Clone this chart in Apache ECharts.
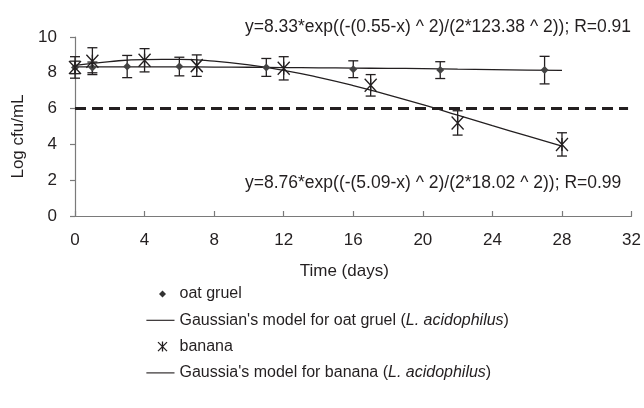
<!DOCTYPE html>
<html>
<head>
<meta charset="utf-8">
<script src="https://cdn.jsdelivr.net/npm/echarts@6/dist/echarts.min.js"></script>
<style>
html,body{margin:0;padding:0;background:#fff;}
#chart{width:644px;height:408px;}
</style>
</head>
<body>
<div id="chart"></div>
<script>
// ---- data ----
var oatDays = [0, 1, 3, 6, 11, 16, 21, 27];
var oatValues = [8.3, 8.3, 8.35, 8.35, 8.3, 8.2, 8.15, 8.15];
var oatErrors = [0.35, 0.3, 0.62, 0.52, 0.5, 0.47, 0.47, 0.77];

var bananaDays = [0, 1, 4, 7, 12, 17, 22, 28];
var bananaValues = [8.3, 8.65, 8.7, 8.4, 8.25, 7.3, 5.2, 4.0];
var bananaErrors = [0.6, 0.75, 0.65, 0.6, 0.65, 0.6, 0.68, 0.65];

var modelDays = [0, 2, 4, 6, 8, 10, 12, 14, 16, 18, 20, 22, 24, 26, 28];
var oatModel = [8.33, 8.33, 8.33, 8.33, 8.32, 8.31, 8.29, 8.28, 8.26, 8.25, 8.23, 8.2, 8.18, 8.15, 8.13];
var bananaModel = [8.42, 8.63, 8.74, 8.75, 8.65, 8.44, 8.14, 7.75, 7.29, 6.77, 6.22, 5.64, 5.05, 4.47, 3.9];

var thresholdDays = [0, 31.8];
var thresholdValue = 6;

var xTicks = [0, 4, 8, 12, 16, 20, 24, 28, 32];
var yTicks = [0, 2, 4, 6, 8, 10];

var seriesNames = [
  'oat gruel',
  "Gaussian's model for oat gruel (L. acidophilus)",
  'banana',
  "Gaussia's model for banana (L. acidophilus)"
];
var oatEquation = 'y=8.33*exp((-(0.55-x) ^ 2)/(2*123.38 ^ 2)); R=0.91';
var bananaEquation = 'y=8.76*exp((-(5.09-x) ^ 2)/(2*18.02 ^ 2)); R=0.99';
var xTitle = 'Time (days)';
var yTitle = 'Log cfu/mL';

// ---- build ----
var FONT = '"Liberation Sans", Arial, sans-serif';
var INK = '#231f20';

function zip(xs, ys) { return xs.map(function (x, i) { return [x, ys[i]]; }); }
function zip3(xs, ys, es) { return xs.map(function (x, i) { return [x, ys[i], es[i]]; }); }

function errorBarItem(params, api) {
  var x = api.value(0), y = api.value(1), e = api.value(2);
  var top = api.coord([x, y + e]);
  var bot = api.coord([x, y - e]);
  var cap = 5;
  var style = { stroke: INK, lineWidth: 1.3 };
  return {
    type: 'group',
    children: [
      { type: 'line', shape: { x1: top[0], y1: top[1], x2: bot[0], y2: bot[1] }, style: style },
      { type: 'line', shape: { x1: top[0] - cap, y1: top[1], x2: top[0] + cap, y2: top[1] }, style: style },
      { type: 'line', shape: { x1: bot[0] - cap, y1: bot[1], x2: bot[0] + cap, y2: bot[1] }, style: style }
    ]
  };
}

var xSymbol = 'path://M0,0 L10,11 M10,0 L0,11 M5,0 L5,11';
var diamondLegend = 'path://M0,0 M30,10 M18,1.5 L21.5,5 L18,8.5 L14.5,5 Z';
var xLegend = 'path://M0,0 M30,10 M13.5,0.5 L22.5,9.5 M22.5,0.5 L13.5,9.5 M18,0 L18,10';
var lineLegend = 'path://M0,0 M30,10 M2,4.4 L32,4.4 L32,5.6 L2,5.6 Z';

var chart = echarts.init(document.getElementById('chart'), null, { renderer: 'canvas' });
chart.setOption({
  animation: false,
  backgroundColor: '#fff',
  textStyle: { fontFamily: FONT, color: INK },
  grid: { left: 75, right: 9, top: 37, bottom: 192 },
  xAxis: {
    type: 'value', min: xTicks[0], max: xTicks[xTicks.length - 1], interval: 4,
    name: xTitle, nameLocation: 'middle', nameGap: 47,
    nameTextStyle: { fontFamily: FONT, fontSize: 17, color: INK, padding: [0, 18, 0, 0] },
    axisLine: { lineStyle: { color: '#7a7a7a', width: 1.2 } },
    axisTick: { inside: true, length: 5, lineStyle: { color: '#7a7a7a', width: 1.2 } },
    axisLabel: { fontFamily: FONT, fontSize: 17, color: INK, margin: 16 },
    splitLine: { show: false }
  },
  yAxis: {
    type: 'value', min: yTicks[0], max: yTicks[yTicks.length - 1], interval: 2,
    name: yTitle, nameLocation: 'middle', nameGap: 47,
    nameTextStyle: { fontFamily: FONT, fontSize: 17, color: INK, padding: [0, 20, 0, 0] },
    axisLine: { show: true, lineStyle: { color: '#7a7a7a', width: 1.2 } },
    axisTick: { show: true, length: 5, lineStyle: { color: '#7a7a7a', width: 1.2 } },
    axisLabel: { fontFamily: FONT, fontSize: 17, color: INK, margin: 18 },
    splitLine: { show: false }
  },
  legend: {
    orient: 'vertical', left: 142, top: 286, padding: 0,
    itemWidth: 30, itemHeight: 10, itemGap: 10.3,
    textStyle: { fontFamily: FONT, fontSize: 16, color: INK, rich: { i: { fontStyle: 'italic', fontFamily: FONT, fontSize: 16, color: INK } } },
    formatter: function (n) { return n.replace('L. acidophilus', '{i|L. acidophilus}'); },
    data: [
      { name: seriesNames[0], icon: diamondLegend, itemStyle: { color: '#333', borderWidth: 0 } },
      { name: seriesNames[1], icon: lineLegend, itemStyle: { color: INK, borderWidth: 0 } },
      { name: seriesNames[2], icon: xLegend, itemStyle: { color: 'none', borderColor: INK, borderWidth: 1.3 } },
      { name: seriesNames[3], icon: lineLegend, itemStyle: { color: INK, borderWidth: 0 } }
    ]
  },
  graphic: [
    { type: 'text', left: 245, top: 18, style: { text: oatEquation, font: '17.5px ' + FONT, fill: INK } },
    { type: 'text', left: 245, top: 174, style: { text: bananaEquation, font: '17.5px ' + FONT, fill: INK } }
  ],
  series: [
    {
      name: 'threshold', type: 'line', data: zip(thresholdDays, [thresholdValue, thresholdValue]),
      symbol: 'none', lineStyle: { color: INK, width: 3, type: [11, 6] }, z: 1
    },
    {
      name: 'oatErr', type: 'custom', data: zip3(oatDays, oatValues, oatErrors),
      renderItem: errorBarItem, z: 3
    },
    {
      name: 'bananaErr', type: 'custom', data: zip3(bananaDays, bananaValues, bananaErrors),
      renderItem: errorBarItem, z: 3
    },
    {
      name: seriesNames[1], type: 'line', data: zip(modelDays, oatModel), smooth: true,
      symbol: 'none', lineStyle: { color: INK, width: 1.3 }, itemStyle: { color: INK }, z: 2
    },
    {
      name: seriesNames[3], type: 'line', data: zip(modelDays, bananaModel), smooth: true,
      symbol: 'none', lineStyle: { color: INK, width: 1.3 }, itemStyle: { color: INK }, z: 2
    },
    {
      name: seriesNames[0], type: 'scatter', data: zip(oatDays, oatValues),
      symbol: 'diamond', symbolSize: 8, itemStyle: { color: '#444', opacity: 1 }, z: 4
    },
    {
      name: seriesNames[2], type: 'scatter', data: zip(bananaDays, bananaValues),
      symbol: xSymbol, symbolSize: [12, 13],
      itemStyle: { color: 'none', borderColor: INK, borderWidth: 1.4, opacity: 1 }, z: 5
    }
  ]
});
</script>
</body>
</html>
